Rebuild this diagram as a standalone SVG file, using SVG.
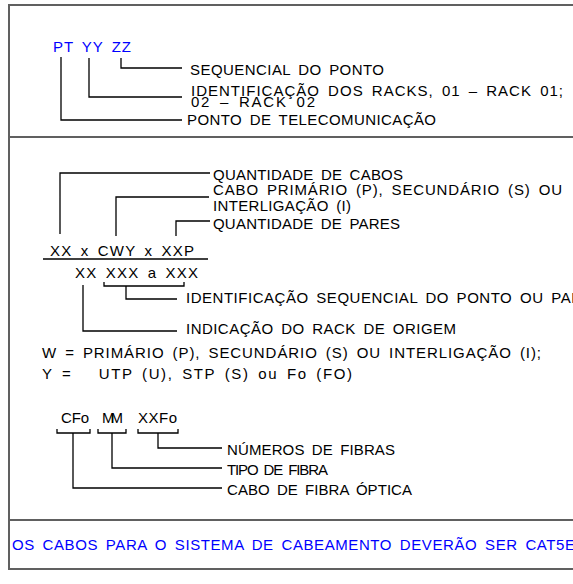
<svg xmlns="http://www.w3.org/2000/svg" width="573" height="584" viewBox="0 0 573 584">
<style>
.t{font-family:"Liberation Sans",Arial,sans-serif;font-size:15px;word-spacing:3px;fill:#000}
.b{fill:#0000ff}
.frame{stroke:#606060;stroke-width:2;fill:none}
.ld{stroke:#000;stroke-width:1.3;fill:none}
</style>
<rect width="573" height="584" fill="#fff"/>
<g id="frame">
<path class="frame" d="M9,5H573M9,137H573M9,520H573M9,569H573M9,4V570"/>
</g>
<g id="connectors">
<path class="ld" d="M61,57V120H182M89,58V97H182M121,58V68H182"/>
<path class="ld" d="M60,234V173H210M116,236V197H209M176,236V221H210"/>
<path class="ld" d="M43,259H208"/>
<path class="ld" d="M104,282V286H184V282M126,286V299H177M83,285V331H177"/>
<path class="ld" d="M57,429V433H90V429M98,429V433H126V429M138,429V433H178V429"/>
<path class="ld" d="M73,433V488H222M112,433V468H222M158,433V448H222"/>
</g>
<g id="pt-code">
<text class="t b" x="53" y="52" textLength="78">PT YY ZZ</text>
</g>
<g id="pt-labels">
<text class="t" x="190" y="75" textLength="194">SEQUENCIAL DO PONTO</text>
<text class="t" x="191" y="96" textLength="372">IDENTIFICAÇÃO DOS RACKS, 01 – RACK 01;</text>
<text class="t" x="191" y="107" textLength="124">02 – RACK 02</text>
<text class="t" x="187" y="125" textLength="249">PONTO DE TELECOMUNICAÇÃO</text>
</g>
<g id="cable-code">
<text class="t" x="50" y="256" textLength="144">XX x CWY x XXP</text>
<text class="t" x="75" y="278" textLength="123">XX XXX a XXX</text>
</g>
<g id="cable-labels">
<text class="t" x="213" y="180" textLength="190">QUANTIDADE DE CABOS</text>
<text class="t" x="213" y="195" textLength="349">CABO PRIMÁRIO (P), SECUNDÁRIO (S) OU</text>
<text class="t" x="213" y="211" textLength="138">INTERLIGAÇÃO (I)</text>
<text class="t" x="213" y="229" textLength="187">QUANTIDADE DE PARES</text>
<text class="t" x="186" y="303" textLength="396">IDENTIFICAÇÃO SEQUENCIAL DO PONTO OU PAR</text>
<text class="t" x="186" y="334" textLength="270">INDICAÇÃO DO RACK DE ORIGEM</text>
</g>
<g id="legend">
<text class="t" x="42" y="358" textLength="499">W = PRIMÁRIO (P), SECUNDÁRIO (S) OU INTERLIGAÇÃO (I);</text>
<text class="t" x="42" y="379" textLength="310" xml:space="preserve">Y =   UTP (U), STP (S) ou Fo (FO)</text>
</g>
<g id="fiber-code">
<text class="t" x="61" y="423" textLength="28">CFo</text>
<text class="t" x="102" y="423" textLength="21">MM</text>
<text class="t" x="138" y="423" textLength="39">XXFo</text>
</g>
<g id="fiber-labels">
<text class="t" x="227" y="455" textLength="168">NÚMEROS DE FIBRAS</text>
<text class="t" x="227" y="475" textLength="101">TIPO DE FIBRA</text>
<text class="t" x="227" y="495" textLength="185">CABO DE FIBRA ÓPTICA</text>
</g>
<g id="note">
<text class="t b" x="12" y="550" textLength="563">OS CABOS PARA O SISTEMA DE CABEAMENTO DEVERÃO SER CAT5E</text>
</g>
</svg>
